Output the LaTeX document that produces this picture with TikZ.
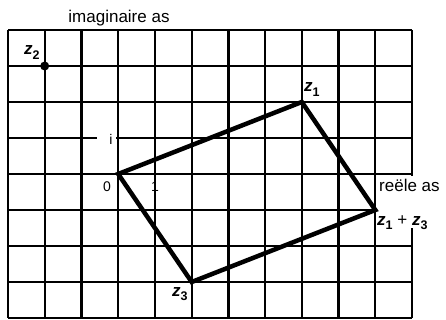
\documentclass[tikz,border=0pt]{standalone}
\usepackage{fontspec}
\setmainfont{Liberation Sans}
\newcommand{\zlab}[1]{\textbf{\textit{z}}\raisebox{-0.55ex}{\fontsize{12.5}{12.5}\selectfont\bfseries #1}}
\tikzset{
  gridline/.style={line width=2.3pt, black},
  edge/.style={line width=4.5pt, black},
  lab/.style={inner sep=0pt, font=\fontsize{17}{17}\selectfont},
  small/.style={inner sep=0pt, font=\fontsize{14}{14}\selectfont},
}
\begin{document}
\begin{tikzpicture}[x=1pt, y=-1pt]
\useasboundingbox (0,0) rectangle (446,320);
% vertical grid lines
\foreach \k in {0,...,10} {
  \draw[gridline] ({8+36.73*\k},30) -- ({8+36.73*\k},318);
}
\draw[gridline] (412,30) -- (412,176);
\draw[gridline] (412,228) -- (412,318);
% horizontal grid lines
\foreach \j in {0,1,2,4,6,7,8} {
  \draw[gridline] (8,{30+36*\j}) -- (412,{30+36*\j});
}
\draw[gridline] (8,138) -- (97,138);
\draw[gridline] (116,138) -- (412,138);
\draw[gridline] (8,210) -- (376,210);
% points
\coordinate (O) at (118.2,174);
\coordinate (Z1) at (301.8,102);
\coordinate (Z13) at (375.3,210);
\coordinate (Z3) at (191.7,282);
\coordinate (Z2) at (44.7,66);
% parallelogram
\draw[edge] (O) -- (Z1) -- (Z13) -- (Z3) -- cycle;
\fill (Z2) circle (4.5);
% labels
\node[lab, anchor=base] (ima) at (119,23) {imaginaire as};
\node[lab, anchor=base west] (rea) at (379,192) {reële as};
\node[lab, anchor=base west] (l13) at (377,225) {\zlab{1} + \zlab{3}};
\node[lab, anchor=base west] (l1) at (304,92) {\zlab{1}};
\node[lab, anchor=base west] (l2) at (24,55) {\zlab{2}};
\node[lab, anchor=base west] (l3) at (172,296) {\zlab{3}};
\node[small] (n0) at (107,187) {0};
\node[small] (n1) at (155,187) {1};
\node[small] (ni) at (111,139) {i};
\end{tikzpicture}
\end{document}
